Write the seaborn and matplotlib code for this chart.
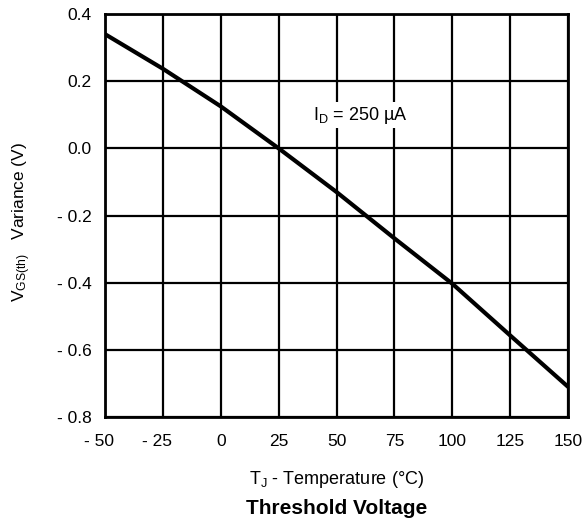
import matplotlib
matplotlib.use("Agg")
import matplotlib.pyplot as plt
import matplotlib.transforms as mtrans
import seaborn as sns
import pandas as pd

temperature = [-50, -25, 0, 25, 50, 75, 100, 125, 150]
variance = [0.34, 0.237, 0.125, 0.0, -0.13, -0.268, -0.403, -0.557, -0.71]
x_ticks = [-50, -25, 0, 25, 50, 75, 100, 125, 150]
x_tick_labels = ["- 50", "- 25", "0", "25", "50", "75", "100", "125", "150"]
y_ticks = [0.4, 0.2, 0.0, -0.2, -0.4, -0.6, -0.8]
y_tick_labels = ["0.4", "0.2", "0.0", "- 0.2", "- 0.4", "- 0.6", "- 0.8"]

sns.set_theme(style="white")
plt.rcParams["font.family"] = ["Liberation Sans", "DejaVu Sans"]
plt.rcParams["mathtext.fontset"] = "custom"
plt.rcParams["mathtext.rm"] = "Liberation Sans"
plt.rcParams["mathtext.default"] = "regular"
plt.rcParams["text.color"] = "black"

df = pd.DataFrame({"T": temperature, "V": variance})

W, H = 584, 523
fig = plt.figure(figsize=(W / 100, H / 100), dpi=100)
ax = fig.add_axes([105 / W, 1 - 417 / H, (568 - 105) / W, (417 - 14) / H])

sns.lineplot(data=df, x="T", y="V", ax=ax, color="black", linewidth=3.0, zorder=3)

ax.set_xlim(-50, 150)
ax.set_ylim(-0.8, 0.4)
ax.set_xticks(x_ticks)
ax.set_xticklabels(x_tick_labels)
ax.set_yticks(y_ticks)
ax.set_yticklabels(y_tick_labels)
ax.tick_params(axis="both", length=0, labelsize=12.5, colors="black")
ax.tick_params(axis="x", pad=12)
ax.tick_params(axis="y", pad=9.4)
# center the digits (not the minus sign) under the tick, as in the reference
for lab in ax.get_xticklabels():
    if lab.get_text().startswith("-"):
        lab.set_transform(lab.get_transform() +
                          mtrans.ScaledTranslation(-6 / 100, 0, fig.dpi_scale_trans))
ax.grid(True, color="black", linewidth=1.6)
for s in ax.spines.values():
    s.set_color("black")
    s.set_linewidth(2)
ax.set_xlabel("")
ax.set_ylabel("")

ax.text(60.2, 0.099, r"$I_D$ = 250 µA", fontsize=13, ha="center", va="center",
        bbox=dict(facecolor="white", edgecolor="none", pad=1.5), zorder=4)

fig.text(22 / W, 1 - 222 / H, r"$V_{GS(th)}$   Variance (V)", rotation=90,
         ha="center", va="center", fontsize=12.5)
fig.text(337 / W, 1 - 480 / H, r"$T_J$ - Temperature (°C)", ha="center", va="center",
         fontsize=13)
fig.text(337 / W, 1 - 508 / H, "Threshold Voltage", ha="center", va="center",
         fontsize=15, fontweight="bold")

fig.savefig("out.png", dpi=100)
